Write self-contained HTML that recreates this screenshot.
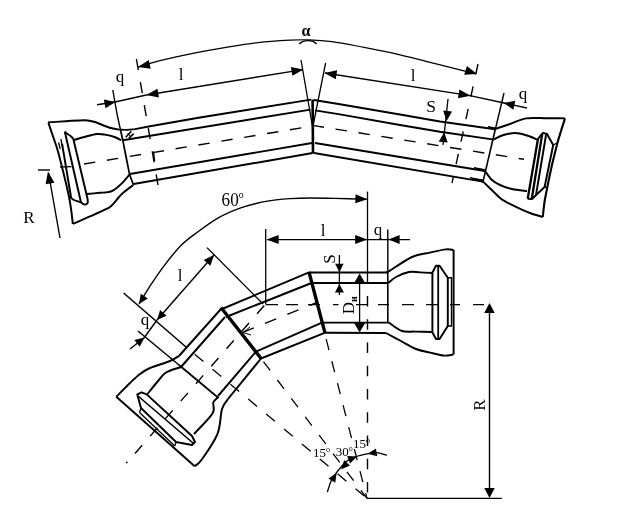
<!DOCTYPE html>
<html><head><meta charset="utf-8"><title>Pipe bend diagram</title>
<style>
html,body{margin:0;padding:0;background:#fff;}
svg{display:block;filter:grayscale(1);}
text{font-family:"Liberation Serif",serif;fill:#000;stroke:none;}
</style></head><body>
<svg width="625" height="520" viewBox="0 0 625 520" stroke="#000" fill="none">
<rect x="0" y="0" width="625" height="520" fill="#fff" stroke="none"/>
<polyline points="119.4,129.6 127,129.9 135,129.1 150,126.3 200,117.5 311,99.6" stroke-width="1.95" fill="none" stroke-linejoin="round"/>
<line x1="122.8" y1="140.2" x2="310.5" y2="109.6" stroke-width="1.95" stroke-linecap="butt"/>
<line x1="130" y1="174" x2="312" y2="143" stroke-width="1.95" stroke-linecap="butt"/>
<line x1="133.6" y1="184" x2="312.6" y2="153" stroke-width="1.95" stroke-linecap="butt"/>
<polyline points="112.8,90 117.2,115 120.4,129.4" stroke-width="1.4" fill="none" stroke-linejoin="round"/>
<polyline points="120.4,129.4 122.8,140.2 125.7,155 129.5,174.2 133.4,184.8" stroke-width="1.75" fill="none" stroke-linejoin="round"/>
<line x1="84" y1="164" x2="312.6" y2="126" stroke-width="1.4" stroke-dasharray="11.4 11.8" stroke-dashoffset="0" stroke-linecap="butt"/>
<line x1="136.4" y1="59" x2="158" y2="185" stroke-width="1.4" stroke-dasharray="11.2 12.2" stroke-dashoffset="0" stroke-linecap="butt"/>
<line x1="153.5" y1="151.6" x2="154.6" y2="161" stroke-width="1.4" stroke-linecap="butt"/>
<polyline points="314,100 340,104.2 400,114.5 440,121.5 495,129.2" stroke-width="1.95" fill="none" stroke-linejoin="round"/>
<polyline points="315,110.4 340,114.4 400,125 440,131.8 494,139.6" stroke-width="1.95" fill="none" stroke-linejoin="round"/>
<line x1="315" y1="143" x2="485" y2="171" stroke-width="1.95" stroke-linecap="butt"/>
<line x1="314" y1="153" x2="483" y2="181.6" stroke-width="1.95" stroke-linecap="butt"/>
<line x1="504" y1="93" x2="495.2" y2="130" stroke-width="1.4" stroke-linecap="butt"/>
<line x1="495.6" y1="128" x2="483" y2="181.6" stroke-width="1.6" stroke-linecap="butt"/>
<line x1="312.6" y1="125.4" x2="524" y2="159.3" stroke-width="1.4" stroke-dasharray="11.5 11.7" stroke-dashoffset="0" stroke-linecap="butt"/>
<line x1="478" y1="64" x2="452" y2="183" stroke-width="1.4" stroke-dasharray="10.5 12.5" stroke-dashoffset="0" stroke-linecap="butt"/>
<line x1="312.6" y1="99.5" x2="313" y2="153.5" stroke-width="2.6" stroke-linecap="butt"/>
<line x1="301" y1="60" x2="312.4" y2="126" stroke-width="1.3" stroke-linecap="butt"/>
<line x1="325.6" y1="63" x2="313" y2="126" stroke-width="1.3" stroke-linecap="butt"/>
<path d="M138,67.2 C142.00,66.03 152.67,62.53 162,60.2 C171.33,57.87 183.33,55.33 194,53.2 C204.67,51.07 215.33,49.17 226,47.4 C236.67,45.63 247.33,43.80 258,42.6 C268.67,41.40 281.50,40.67 290,40.2 C298.50,39.73 302.00,39.57 309,39.8 C316.00,40.03 322.83,40.33 332,41.6 C341.17,42.87 353.33,45.37 364,47.4 C374.67,49.43 385.33,51.40 396,53.8 C406.67,56.20 417.33,59.13 428,61.8 C438.67,64.47 452.00,67.80 460,69.8 C468.00,71.80 473.33,73.13 476,73.8" stroke-width="1.2" fill="none" stroke-linejoin="round"/>
<polygon points="138.00,67.00 148.75,60.03 150.69,68.82" fill="#000" stroke="none"/>
<polygon points="477.00,74.00 464.20,74.63 466.94,66.06" fill="#000" stroke="none"/>
<path d="M299.2,43.9 C299.83,43.48 301.53,41.95 303,41.4 C304.47,40.85 306.33,40.60 308,40.6 C309.67,40.60 311.58,40.85 313,41.4 C314.42,41.95 315.92,43.48 316.5,43.9" stroke-width="1.4" fill="none" stroke-linejoin="round"/>
<text x="306" y="36.3" font-size="16" font-weight="bold" text-anchor="middle" >α</text>
<line x1="146.4" y1="95" x2="303" y2="69.6" stroke-width="1.4" stroke-linecap="butt"/>
<polygon points="146.40,95.00 157.54,88.66 158.96,97.55" fill="#000" stroke="none"/>
<polygon points="303.50,69.50 292.36,75.84 290.94,66.95" fill="#000" stroke="none"/>
<text x="181" y="80" font-size="17" font-weight="normal" text-anchor="middle" >l</text>
<line x1="97" y1="104.8" x2="115" y2="102" stroke-width="1.4" stroke-linecap="butt"/>
<line x1="115" y1="102" x2="146.4" y2="95" stroke-width="1.4" stroke-linecap="butt"/>
<polygon points="115.50,101.90 105.47,108.28 103.88,99.42" fill="#000" stroke="none"/>
<text x="120" y="82" font-size="17" font-weight="normal" text-anchor="middle" >q</text>
<line x1="325" y1="73" x2="470" y2="95.6" stroke-width="1.4" stroke-linecap="butt"/>
<polygon points="324.60,72.90 337.15,70.30 335.76,79.20" fill="#000" stroke="none"/>
<polygon points="470.50,95.70 457.95,98.30 459.34,89.40" fill="#000" stroke="none"/>
<line x1="470" y1="95.6" x2="504" y2="103" stroke-width="1.4" stroke-linecap="butt"/>
<line x1="504" y1="103" x2="527" y2="108" stroke-width="1.4" stroke-linecap="butt"/>
<polygon points="503.60,102.90 515.31,100.87 513.38,109.66" fill="#000" stroke="none"/>
<text x="413" y="81" font-size="17" font-weight="normal" text-anchor="middle" >l</text>
<text x="523" y="99" font-size="17" font-weight="normal" text-anchor="middle" >q</text>
<line x1="448" y1="99" x2="443" y2="145" stroke-width="1.3" stroke-linecap="butt"/>
<polygon points="446.60,121.00 443.12,110.60 452.07,111.50" fill="#000" stroke="none"/>
<polygon points="444.20,132.20 447.68,142.60 438.73,141.70" fill="#000" stroke="none"/>
<text x="431" y="112" font-size="17.5" font-weight="normal" text-anchor="middle" >S</text>
<line x1="38" y1="170" x2="50" y2="170" stroke-width="1.4" stroke-linecap="butt"/>
<line x1="48.5" y1="173" x2="60" y2="238" stroke-width="1.4" stroke-linecap="butt"/>
<polygon points="48.00,171.60 54.45,182.68 45.57,184.18" fill="#000" stroke="none"/>
<text x="29" y="223" font-size="17" font-weight="normal" text-anchor="middle" >R</text>
<path d="M48,122.4 C51.00,122.20 59.83,121.57 66,121.2 C72.17,120.83 80.17,120.07 85,120.2 C89.83,120.33 91.67,121.03 95,122 C98.33,122.97 102.17,124.95 105,126 C107.83,127.05 109.60,127.70 112,128.3 C114.40,128.90 118.17,129.38 119.4,129.6" stroke-width="1.95" fill="none" stroke-linejoin="round"/>
<path d="M48.4,122.7 C49.17,124.98 51.45,131.78 53,136.4 C54.55,141.02 55.95,144.30 57.7,150.4 C59.45,156.50 61.65,165.43 63.5,173 C65.35,180.57 67.52,189.63 68.8,195.8 C70.08,201.97 70.53,205.32 71.2,210 C71.87,214.68 72.53,221.58 72.8,223.9" stroke-width="1.95" fill="none" stroke-linejoin="round"/>
<path d="M72.8,223.9 C75.67,222.65 84.30,218.95 90,216.4 C95.70,213.85 103.30,210.50 107,208.6 C110.70,206.70 109.65,207.52 112.2,205 C114.75,202.48 118.77,196.83 122.3,193.5 C125.83,190.17 131.55,186.42 133.4,185" stroke-width="1.95" fill="none" stroke-linejoin="round"/>
<path d="M74,140 C76.00,139.42 82.17,137.50 86,136.5 C89.83,135.50 93.83,134.32 97,134 C100.17,133.68 102.07,134.10 105,134.6 C107.93,135.10 111.88,136.07 114.6,137 C117.32,137.93 120.18,139.67 121.3,140.2" stroke-width="1.95" fill="none" stroke-linejoin="round"/>
<path d="M87,194 C89.17,193.80 97.00,193.05 100,192.8 C103.00,192.55 103.20,192.72 105,192.5 C106.80,192.28 108.97,192.17 110.8,191.5 C112.63,190.83 114.17,189.85 116,188.5 C117.83,187.15 119.55,185.70 121.8,183.4 C124.05,181.10 128.22,176.15 129.5,174.7" stroke-width="1.95" fill="none" stroke-linejoin="round"/>
<line x1="125.7" y1="137.3" x2="131.4" y2="131.3" stroke-width="1.6" stroke-linecap="butt"/>
<line x1="128.8" y1="138.2" x2="133.8" y2="133.6" stroke-width="1.6" stroke-linecap="butt"/>
<line x1="127.6" y1="133" x2="130.6" y2="136.6" stroke-width="1.0" stroke-linecap="butt"/>
<line x1="62.1" y1="143.8" x2="71" y2="197" stroke-width="1.95" stroke-linecap="butt"/>
<line x1="64.8" y1="131.6" x2="81" y2="202.4" stroke-width="2.0" stroke-linecap="butt"/>
<path d="M64.8,131.6 C65.13,131.93 65.93,132.93 66.8,133.6 C67.67,134.27 68.93,134.77 70,135.6 C71.07,136.43 72.67,138.10 73.2,138.6" stroke-width="1.95" fill="none" stroke-linejoin="round"/>
<line x1="73.2" y1="138.6" x2="87.6" y2="199" stroke-width="1.95" stroke-linecap="butt"/>
<path d="M87.6,199 C87.60,199.67 88.10,202.07 87.6,203 C87.10,203.93 85.70,204.70 84.6,204.6 C83.50,204.50 81.60,202.77 81,202.4" stroke-width="1.95" fill="none" stroke-linejoin="round"/>
<path d="M69.4,196 C70.00,196.58 71.07,198.43 73,199.5 C74.93,200.57 79.67,201.92 81,202.4" stroke-width="1.95" fill="none" stroke-linejoin="round"/>
<line x1="60" y1="167" x2="71.5" y2="166.6" stroke-width="1.3" stroke-linecap="butt"/>
<line x1="58.6" y1="142.5" x2="60.2" y2="149" stroke-width="1.3" stroke-linecap="butt"/>
<line x1="60.8" y1="139" x2="62.4" y2="146.5" stroke-width="1.3" stroke-linecap="butt"/>
<path d="M495,129 C497.50,128.17 504.83,125.77 510,124 C515.17,122.23 520.17,119.37 526,118.4 C531.83,117.43 538.50,118.20 545,118.2 C551.50,118.20 561.67,118.37 565,118.4" stroke-width="1.95" fill="none" stroke-linejoin="round"/>
<path d="M565,118.4 C564.33,120.50 562.28,126.82 561,131 C559.72,135.18 558.80,137.83 557.3,143.5 C555.80,149.17 553.67,157.70 552,165 C550.33,172.30 548.55,181.13 547.3,187.3 C546.05,193.47 545.25,197.05 544.5,202 C543.75,206.95 543.08,214.50 542.8,217" stroke-width="2.1" fill="none" stroke-linejoin="round"/>
<path d="M542.8,217 C540.67,216.33 534.47,214.70 530,213 C525.53,211.30 520.00,208.67 516,206.8 C512.00,204.93 508.67,203.27 506,201.8 C503.33,200.33 502.33,199.93 500,198 C497.67,196.07 494.83,192.93 492,190.2 C489.17,187.47 484.50,183.03 483,181.6" stroke-width="1.95" fill="none" stroke-linejoin="round"/>
<path d="M494,139.5 C495.33,138.83 498.50,136.58 502,135.5 C505.50,134.42 510.83,133.00 515,133 C519.17,133.00 523.17,134.33 527,135.5 C530.83,136.67 536.17,139.25 538,140" stroke-width="1.95" fill="none" stroke-linejoin="round"/>
<path d="M485,171 C486.17,172.50 489.50,177.67 492,180 C494.50,182.33 496.67,183.50 500,185 C503.33,186.50 507.50,188.00 512,189 C516.50,190.00 524.50,190.67 527,191" stroke-width="1.95" fill="none" stroke-linejoin="round"/>
<line x1="538" y1="138.8" x2="527.7" y2="198.8" stroke-width="2.3" stroke-linecap="butt"/>
<line x1="542.2" y1="134" x2="531.8" y2="198.8" stroke-width="2.3" stroke-linecap="butt"/>
<polyline points="538,138.8 542.7,133 547,134 553.2,145 544.6,187 532,199 527.7,198.8" stroke-width="1.95" fill="none" stroke-linejoin="round"/>
<line x1="546" y1="135" x2="536" y2="195" stroke-width="1.95" stroke-linecap="butt"/>
<line x1="553.2" y1="145" x2="557" y2="143" stroke-width="1.3" stroke-linecap="butt"/>
<line x1="544.6" y1="187" x2="547.3" y2="187.6" stroke-width="1.3" stroke-linecap="butt"/>
<polygon points="488,126.6 495,127.8 495,129.6" stroke-width="1" fill="#000" stroke-linejoin="round"/>
<polygon points="474,167.6 485,169.6 485,171.6" stroke-width="1" fill="#000" stroke-linejoin="round"/>
<polygon points="470,177.6 483,180 483,182.4" stroke-width="1" fill="#000" stroke-linejoin="round"/>
<line x1="309" y1="272.4" x2="388" y2="272.4" stroke-width="1.95" stroke-linecap="butt"/>
<line x1="311.5" y1="283" x2="388" y2="283" stroke-width="1.95" stroke-linecap="butt"/>
<line x1="322" y1="322.6" x2="389" y2="322.6" stroke-width="1.95" stroke-linecap="butt"/>
<line x1="324.4" y1="332.8" x2="386" y2="333" stroke-width="1.95" stroke-linecap="butt"/>
<line x1="309" y1="272" x2="325" y2="333" stroke-width="3.3" stroke-linecap="butt"/>
<line x1="222" y1="309" x2="309" y2="272.4" stroke-width="1.95" stroke-linecap="butt"/>
<line x1="226" y1="317" x2="311.5" y2="283" stroke-width="1.95" stroke-linecap="butt"/>
<line x1="256" y1="351.6" x2="322" y2="322.6" stroke-width="1.95" stroke-linecap="butt"/>
<line x1="261" y1="358.5" x2="324.6" y2="332.8" stroke-width="1.95" stroke-linecap="butt"/>
<line x1="221" y1="307.5" x2="261.5" y2="359" stroke-width="3.4" stroke-linecap="butt"/>
<line x1="221" y1="309" x2="179" y2="356" stroke-width="1.95" stroke-linecap="butt"/>
<line x1="225" y1="317" x2="181" y2="367" stroke-width="1.95" stroke-linecap="butt"/>
<line x1="256" y1="351.6" x2="218" y2="396" stroke-width="1.95" stroke-linecap="butt"/>
<line x1="261" y1="358.5" x2="228" y2="399" stroke-width="1.95" stroke-linecap="butt"/>
<line x1="138" y1="331" x2="179" y2="365" stroke-width="1.5" stroke-linecap="butt"/>
<line x1="179" y1="365" x2="218.5" y2="398" stroke-width="1.8" stroke-linecap="butt"/>
<line x1="123.6" y1="293" x2="186" y2="347" stroke-width="1.55" stroke-linecap="butt"/>
<line x1="186" y1="347" x2="367" y2="498.4" stroke-width="1.3" stroke-dasharray="11.4 11.9" stroke-dashoffset="-11.3" stroke-linecap="butt"/>
<line x1="157" y1="320" x2="214" y2="255" stroke-width="1.4" stroke-linecap="butt"/>
<polygon points="157.00,320.00 160.09,310.06 166.47,315.68" fill="#000" stroke="none"/>
<polygon points="214.00,255.00 210.44,265.86 203.69,259.91" fill="#000" stroke="none"/>
<line x1="207" y1="247.6" x2="263" y2="304" stroke-width="1.3" stroke-linecap="butt"/>
<line x1="157" y1="320" x2="144" y2="338" stroke-width="1.4" stroke-linecap="butt"/>
<line x1="130" y1="349" x2="144" y2="338" stroke-width="1.4" stroke-linecap="butt"/>
<polygon points="144.50,337.60 139.65,346.81 134.40,340.12" fill="#000" stroke="none"/>
<text x="145" y="324.6" font-size="17" font-weight="normal" text-anchor="middle" >q</text>
<text x="180" y="281" font-size="17" font-weight="normal" text-anchor="middle" >l</text>
<path d="M139,304 C140.70,301.22 145.15,293.50 149.2,287.3 C153.25,281.10 157.97,273.82 163.3,266.8 C168.63,259.78 175.25,251.17 181.2,245.2 C187.15,239.23 192.60,235.67 199,231 C205.40,226.33 212.77,221.00 219.6,217.2 C226.43,213.40 233.60,210.57 240,208.2 C246.40,205.83 252.00,204.38 258,203 C264.00,201.62 270.67,200.63 276,199.9 C281.33,199.17 284.33,198.92 290,198.6 C295.67,198.28 302.50,198.03 310,198 C317.50,197.97 325.50,198.17 335,198.4 C344.50,198.63 361.67,199.23 367,199.4" stroke-width="1.4" fill="none" stroke-linejoin="round"/>
<polygon points="139.00,304.00 140.79,293.75 147.84,298.50" fill="#000" stroke="none"/>
<polygon points="367.40,199.20 355.27,203.34 355.54,194.34" fill="#000" stroke="none"/>
<text transform="translate(221.6 206) scale(0.88 1)" font-size="19.5">60<tspan font-size="11" dy="-8">o</tspan></text>
<line x1="265.7" y1="229" x2="265.7" y2="304" stroke-width="1.3" stroke-linecap="butt"/>
<line x1="367.5" y1="191.6" x2="367.5" y2="283" stroke-width="1.3" stroke-linecap="butt"/>
<line x1="367.5" y1="283" x2="367.5" y2="498" stroke-width="1.4" stroke-dasharray="10.5 12.75" stroke-dashoffset="-13" stroke-linecap="butt"/>
<line x1="267" y1="239.6" x2="410" y2="239.6" stroke-width="1.4" stroke-linecap="butt"/>
<polygon points="266.60,239.60 278.60,235.10 278.60,244.10" fill="#000" stroke="none"/>
<polygon points="367.20,239.60 355.20,244.10 355.20,235.10" fill="#000" stroke="none"/>
<polygon points="388.60,239.60 399.60,235.10 399.60,244.10" fill="#000" stroke="none"/>
<line x1="387.8" y1="229.6" x2="387.8" y2="272" stroke-width="1.4" stroke-linecap="butt"/>
<line x1="387.8" y1="272" x2="387.8" y2="322.6" stroke-width="1.6" stroke-linecap="butt"/>
<text x="323" y="236" font-size="17" font-weight="normal" text-anchor="middle" >l</text>
<text x="378" y="235" font-size="17" font-weight="normal" text-anchor="middle" >q</text>
<line x1="339.4" y1="255" x2="339.4" y2="295" stroke-width="1.3" stroke-linecap="butt"/>
<polygon points="339.40,272.20 335.15,263.70 343.65,263.70" fill="#000" stroke="none"/>
<polygon points="339.40,284.00 343.90,292.50 334.90,292.50" fill="#000" stroke="none"/>
<text x="334.5" y="259" font-size="17" font-weight="normal" text-anchor="middle" transform="rotate(-90 334.5 259)" >S</text>
<g transform="rotate(-90 348 305.2)"><text x="348" y="305.2" font-size="17" text-anchor="middle" dy="6">D<tspan font-size="10" font-weight="bold" dy="3">н</tspan></text></g>
<line x1="359.6" y1="278" x2="359.6" y2="328" stroke-width="1.3" stroke-linecap="butt"/>
<polygon points="359.60,273.40 365.10,282.90 354.10,282.90" fill="#000" stroke="none"/>
<polygon points="359.60,332.40 354.10,322.90 365.10,322.90" fill="#000" stroke="none"/>
<line x1="265.6" y1="304.6" x2="486" y2="304.6" stroke-width="1.4" stroke-dasharray="12.4 8 12 10 12 13 5.5 17.5 11 11 11 13 12 12 13 11 10 13 11 20" stroke-dashoffset="0" stroke-linecap="butt"/>
<line x1="265.6" y1="304" x2="135" y2="453.5" stroke-width="1.4" stroke-dasharray="11 12.2" stroke-dashoffset="-2" stroke-linecap="butt"/>
<line x1="317" y1="302.5" x2="241" y2="333" stroke-width="1.4" stroke-dasharray="12 12" stroke-dashoffset="4" stroke-linecap="butt"/>
<polyline points="250,327 243,332.6 251,335" stroke-width="1.0" fill="none" stroke-linejoin="round"/>
<line x1="324.6" y1="333" x2="367" y2="498.4" stroke-width="1.3" stroke-dasharray="11.3 11.4" stroke-dashoffset="-6.4" stroke-linecap="butt"/>
<line x1="261.5" y1="359" x2="367" y2="498.4" stroke-width="1.3" stroke-dasharray="11 12.05" stroke-dashoffset="-3.3" stroke-linecap="butt"/>
<line x1="367" y1="498.4" x2="501.8" y2="498.4" stroke-width="1.3" stroke-linecap="butt"/>
<line x1="489.5" y1="310" x2="489.5" y2="490" stroke-width="1.4" stroke-linecap="butt"/>
<polygon points="489.50,303.00 494.75,313.00 484.25,313.00" fill="#000" stroke="none"/>
<polygon points="489.50,498.00 484.25,488.00 494.75,488.00" fill="#000" stroke="none"/>
<text x="479.2" y="405" font-size="17" font-weight="normal" text-anchor="middle" transform="rotate(-90 479.2 405)" dy="6">R</text>
<path d="M327.3,492 C328.02,489.97 330.15,482.92 331.6,479.8 C333.05,476.68 333.60,476.32 336,473.3 C338.40,470.28 342.67,464.47 346,461.7 C349.33,458.93 352.38,458.02 356,456.7 C359.62,455.38 364.32,454.48 367.7,453.8 C371.08,453.12 373.08,452.37 376.3,452.6 C379.52,452.83 385.22,454.77 387,455.2" stroke-width="1.3" fill="none" stroke-linejoin="round"/>
<polygon points="336.70,473.00 335.20,482.73 328.47,478.41" fill="#000" stroke="none"/>
<polygon points="341.00,469.50 344.17,460.17 350.04,465.60" fill="#000" stroke="none"/>
<polygon points="357.00,456.50 350.06,463.49 347.16,456.03" fill="#000" stroke="none"/>
<polygon points="367.70,453.80 375.96,448.43 377.22,456.33" fill="#000" stroke="none"/>
<text x="313" y="457.4" font-size="13">15<tspan font-size="8" dy="-5">o</tspan></text>
<text x="335.7" y="456" font-size="13">30<tspan font-size="8" dy="-5">o</tspan></text>
<text x="353" y="448" font-size="13">15<tspan font-size="8" dy="-5">o</tspan></text>
<path d="M386,272.4 C386.67,272.10 385.67,273.17 390,270.6 C394.33,268.03 405.33,260.00 412,257 C418.67,254.00 424.33,253.87 430,252.6 C435.67,251.33 442.07,249.83 446,249.4 C449.93,248.97 452.33,249.90 453.6,250" stroke-width="1.95" fill="none" stroke-linejoin="round"/>
<line x1="453.6" y1="250" x2="453.6" y2="354.4" stroke-width="1.95" stroke-linecap="butt"/>
<path d="M388.4,283 C389.67,282.00 392.57,278.83 396,277 C399.43,275.17 405.00,272.77 409,272 C413.00,271.23 416.10,272.23 420,272.4 C423.90,272.57 430.33,272.90 432.4,273" stroke-width="1.95" fill="none" stroke-linejoin="round"/>
<path d="M389,322.6 C391.17,324.00 397.67,329.50 402,331 C406.33,332.50 409.93,331.43 415,331.6 C420.07,331.77 429.50,331.93 432.4,332" stroke-width="1.95" fill="none" stroke-linejoin="round"/>
<path d="M386,333 C388.50,334.33 396.00,338.33 401,341 C406.00,343.67 411.17,347.07 416,349 C420.83,350.93 425.33,351.50 430,352.6 C434.67,353.70 440.07,355.30 444,355.6 C447.93,355.90 452.00,354.60 453.6,354.4" stroke-width="1.95" fill="none" stroke-linejoin="round"/>
<line x1="432.4" y1="272.5" x2="432.4" y2="332.5" stroke-width="1.95" stroke-linecap="butt"/>
<polyline points="432.4,272.5 436,265.8 439.6,265.8 447.8,277.8 447.8,326 439.6,339 436,339 432.4,332.5" stroke-width="1.95" fill="none" stroke-linejoin="round"/>
<line x1="438.2" y1="266" x2="438.2" y2="339" stroke-width="1.8" stroke-linecap="butt"/>
<polyline points="447.8,277.8 451.5,277.8 451.5,326 447.8,326" stroke-width="1.4" fill="none" stroke-linejoin="round"/>
<path d="M179,356 C177.50,356.83 174.83,359.00 170,361 C165.17,363.00 155.00,365.83 150,368 C145.00,370.17 143.33,371.50 140,374 C136.67,376.50 133.95,379.20 130,383 C126.05,386.80 118.58,394.50 116.3,396.8" stroke-width="1.95" fill="none" stroke-linejoin="round"/>
<line x1="116.3" y1="396.8" x2="194.7" y2="466.2" stroke-width="1.95" stroke-linecap="butt"/>
<path d="M194.7,466.2 C195.88,465.08 198.00,464.90 201.8,459.5 C205.60,454.10 214.13,442.22 217.5,433.8 C220.87,425.38 220.25,414.80 222,409 C223.75,403.20 227.00,400.67 228,399" stroke-width="1.95" fill="none" stroke-linejoin="round"/>
<path d="M181,367 C178.50,367.92 169.83,370.17 166,372.5 C162.17,374.83 161.08,377.42 158,381 C154.92,384.58 149.25,391.83 147.5,394" stroke-width="1.95" fill="none" stroke-linejoin="round"/>
<path d="M218.2,397 C217.38,397.92 214.25,399.75 213.3,402.5 C212.35,405.25 215.72,408.25 212.5,413.5 C209.28,418.75 197.08,430.58 194,434" stroke-width="1.95" fill="none" stroke-linejoin="round"/>
<polygon points="137.3,394.4 141.6,392.3 146.7,394.4 192,436 195,442 192,445 176,442 141,408" stroke-width="1.95" fill="none" stroke-linejoin="round"/>
<line x1="138" y1="396" x2="193.6" y2="443.5" stroke-width="1.6" stroke-linecap="butt"/>
<line x1="139.5" y1="412.5" x2="174.8" y2="446" stroke-width="1.3" stroke-linecap="butt"/>
<line x1="141" y1="408" x2="139.5" y2="412.5" stroke-width="1.3" stroke-linecap="butt"/>
<line x1="176" y1="442" x2="174.8" y2="446" stroke-width="1.3" stroke-linecap="butt"/>
<circle cx="126.8" cy="462.4" r="0.9" fill="#000" stroke="none"/>
</svg>
</body></html>
